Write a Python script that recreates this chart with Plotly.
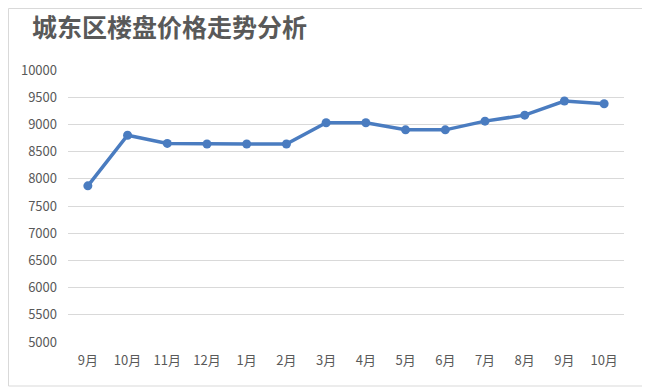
import plotly.graph_objects as go

title = "城东区楼盘价格走势分析"
months = ["9月", "10月", "11月", "12月", "1月", "2月", "3月", "4月", "5月", "6月", "7月", "8月", "9月", "10月"]
prices = [7870, 8800, 8650, 8640, 8640, 8640, 9030, 9030, 8900, 8900, 9060, 9170, 9430, 9380]
y_ticks = [5000, 5500, 6000, 6500, 7000, 7500, 8000, 8500, 9000, 9500, 10000]
y_tick_text = [str(v) for v in y_ticks]

x_idx = list(range(len(months)))

# page body has an 8px margin; paper starts at page (8, 8)
W, H = 642, 382
L, T, R, B = 60, 62, 26, 48
PW, PH = W - L - R, H - T - B

fig = go.Figure()
fig.add_trace(go.Scatter(
    x=x_idx, y=prices, mode="lines+markers",
    line=dict(color="#4A7CC0", width=3.5),
    marker=dict(color="#4A7CC0", size=9),
    hoverinfo="skip", showlegend=False,
))

fig.update_layout(
    width=W, height=H,
    margin=dict(l=L, r=R, t=T, b=B, autoexpand=False),
    paper_bgcolor="white", plot_bgcolor="white",
    font=dict(family="Noto Sans CJK SC, Noto Sans, sans-serif", color="#595959", size=13),
    title=dict(text=title, x=24 / W, xanchor="left", y=1 - 20 / H, yanchor="middle",
               font=dict(family="Noto Sans CJK SC", size=25, color="#595959", weight=600)),
    xaxis=dict(
        range=[-0.5, len(months) - 0.5], tickmode="array", tickvals=x_idx, ticktext=months,
        showgrid=False, zeroline=False, showline=False, ticks="",
        ticklabelstandoff=9, tickfont=dict(size=13, color="#595959"),
    ),
    yaxis=dict(
        range=[5000, 10000], tickmode="array", tickvals=y_ticks, ticktext=y_tick_text,
        showgrid=True, gridcolor="#D9D9D9", gridwidth=1, zeroline=False, showline=False,
        ticks="", ticklabelstandoff=10, tickfont=dict(size=13, color="#595959"),
    ),
    shapes=[dict(type="rect", xref="paper", yref="paper",
                 x0=-(L - 0.5) / PW, x1=(636 - L) / PW,
                 y0=-(378 - (T + PH)) / PH, y1=(T + PH - 0.5) / PH,
                 line=dict(color="#D9D9D9", width=1), fillcolor="rgba(0,0,0,0)", layer="below")],
)

fig.write_html("out.html")
